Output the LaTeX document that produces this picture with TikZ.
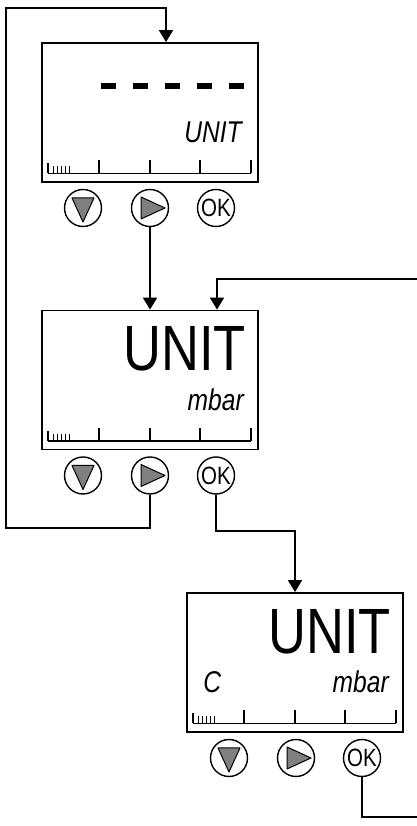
\documentclass[tikz,border=0pt]{standalone}
\usepackage{fontspec}
\newfontfamily\lcdfont[FakeStretch=0.82]{Liberation Sans}
\usetikzlibrary{arrows.meta, positioning}

% bar scale at the foot of a display
\newcommand{\lcdscale}[1]{%
  \draw[line width=1.6pt] ([xshift=7,yshift=9.5]#1.south west) -- ++(203,0);
  \draw[line width=1.3pt] ([xshift=7,yshift=9.5]#1.south west) -- ++(0,10);
  \foreach \t in {12,16,20,24,28}
    \draw[line width=1pt] ([xshift=\t,yshift=9.5]#1.south west) -- ++(0,7);
  \foreach \t in {58,109,159,210}
    \draw[line width=1.3pt] ([xshift=\t,yshift=9.5]#1.south west) -- ++(0,13);
}
\newcommand{\tridown}[1]{\filldraw[glyph] ([shift={(-11,10)}]#1.center) -- ++(22,0) -- ++(-11,-24) -- cycle;}
\newcommand{\triright}[1]{\filldraw[glyph] ([shift={(-9,11)}]#1.center) -- ++(0,-22) -- ++(24,11) -- cycle;}

\begin{document}
\begin{tikzpicture}[x=1pt,y=1pt,node distance=26pt,on grid]
    \tikzstyle{display}=[draw,line width=1.8pt,minimum width=216pt,minimum height=139pt,inner sep=0pt]
    \tikzstyle{btn}=[shape=circle,draw,line width=1.4pt,minimum size=37pt,inner sep=0pt,font=\lcdfont\fontsize{25}{25}\selectfont]
    \tikzstyle{glyph}=[fill=black!50,draw=black,line width=1pt,line join=round]
    \tikzstyle{small}=[inner sep=0pt,font=\lcdfont\itshape\fontsize{30}{30}\selectfont]
    \tikzstyle{big}=[inner sep=0pt,anchor=base east,font=\lcdfont\fontsize{64}{64}\selectfont]
    \tikzstyle{flow}=[-{Triangle[width=14pt,length=12pt]},line width=1.7pt]
    \useasboundingbox (0,0) rectangle (417,826);

    \node[display] (D1) at (150,713.5) {};
    \node[display, below=267.5pt of D1] (D2) {};
    \node[display, below right=282.5pt and 145pt of D2] (D3) {};

    % keys under each display
    \node[btn, below left=95.5pt and 67pt of D1] (D1d) {};
    \node[btn, below=95.5pt of D1] (D1r) {};
    \node[btn, below right=95.5pt and 66pt of D1] (D1k) {OK};
    \node[btn, below left=95.5pt and 67pt of D2] (D2d) {};
    \node[btn, below=95.5pt of D2] (D2r) {};
    \node[btn, below right=95.5pt and 66pt of D2] (D2k) {OK};
    \node[btn, below left=95.5pt and 66pt of D3] (D3d) {};
    \node[btn, below right=95.5pt and 1pt of D3] (D3r) {};
    \node[btn, below right=95.5pt and 67pt of D3] (D3k) {OK};
    \tridown{D1d} \triright{D1r}
    \tridown{D2d} \triright{D2r}
    \tridown{D3d} \triright{D3r}

    % display texts
    \foreach \i in {0,...,4}
      \fill ([xshift=60+32*\i,yshift=93.5]D1.south west) rectangle ++(15,6);
    \node[small, anchor=base east] (D1u) at ([xshift=-17,yshift=40]D1.south east) {UNIT};
    \node[big] (D2u) at ([xshift=-13,yshift=79.5]D2.south east) {UNIT};
    \node[small, anchor=base east] (D2m) at ([xshift=-15,yshift=40]D2.south east) {mbar};
    \node[big] (D3u) at ([xshift=-13,yshift=79.5]D3.south east) {UNIT};
    \node[small, anchor=base east] (D3m) at ([xshift=-15,yshift=40]D3.south east) {mbar};
    \node[small, anchor=base west] (D3c) at ([xshift=17,yshift=40]D3.south west) {C};
    \lcdscale{D1}
    \lcdscale{D2}
    \lcdscale{D3}

    \coordinate (loopL) at (6,298);
    \coordinate (loopT) at (6,818);
    \coordinate (inR) at (417,547);
    \coordinate (outR) at (417,9);

    \draw[flow] (D2r.south) |- (loopL) -- (loopT) -| ([xshift=16]D1.north);
    \draw[flow] (D1r.south) -- (D1r.south |- D2.north);
    \draw[flow] (inR) -| ([xshift=67]D2.north);
    \draw[flow] (D2k.south) -- ++(0,-36) -| (D3.north);
    \draw[line width=1.7pt] (D3k.south) |- (outR);
\end{tikzpicture}
\end{document}
